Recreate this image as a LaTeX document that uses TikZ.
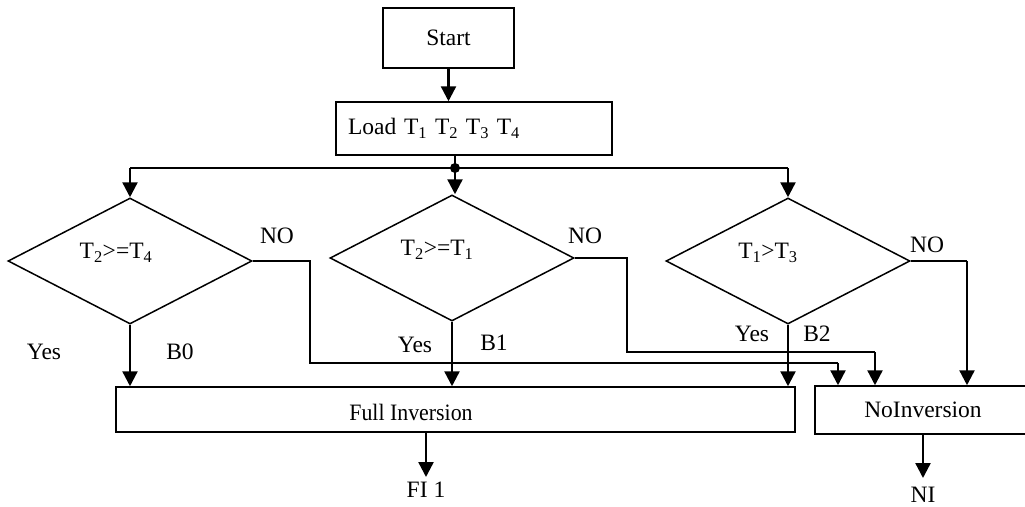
\documentclass[tikz,border=0pt]{standalone}
\usepackage{fontspec}
\setmainfont{Liberation Serif}
\usetikzlibrary{shapes.geometric,arrows.meta}
\begin{document}
\begin{tikzpicture}[x=1pt,y=-1pt,
  box/.style={draw,line width=1.5pt,inner sep=0pt},
  dia/.style={draw,diamond,line width=1.5pt,minimum width=244pt,minimum height=126pt,inner sep=0pt},
  txt/.style={font=\fontsize{23.5}{27}\selectfont,inner sep=0pt},
  arr/.style={line width=2.4pt,-{Triangle[width=15pt,length=15pt]}},
  wire/.style={line width=1.6pt},
]
\useasboundingbox (0,0) rectangle (1025,506);
% boxes
\node[box,txt,minimum width=131pt,minimum height=60pt] (start) at (448.5,38) {Start};
\node[box,txt,minimum width=276pt,minimum height=53pt,text width=252pt,align=left] (load) at (474,128.5) {Load T\textsubscript{1} T\textsubscript{2} T\textsubscript{3} T\textsubscript{4}};
\coordinate (j) at (455,168);
% diamonds
\node[dia] (d1) at (130,261) {};
\node[dia] (d2) at (452,258) {};
\node[dia] (d3) at (788,261) {};
\node[txt] (d1t) at (116,253) {T\textsubscript{2}>=T\textsubscript{4}};
\node[txt] (d2t) at (437,250) {T\textsubscript{2}>=T\textsubscript{1}};
\node[txt] (d3t) at (768,253) {T\textsubscript{1}>T\textsubscript{3}};
% bottom boxes
\node[box,minimum width=679pt,minimum height=45pt] (fi) at (455.5,409.5) {};
\node[txt,xscale=0.93] (fitext) at (411,412) {Full Inversion};
\node[box,txt,minimum width=216pt,minimum height=48pt] (ni) at (923,410) {NoInversion};
\coordinate (fiout) at (426,477);
\coordinate (niout) at (923,478);
% connectors
\draw[arr] (start.south) -- (start.south |- load.north);
\draw[line width=2.4pt] (load.south -| j) -- (j);
\fill (j) circle (5pt);
\draw[wire] (d1.north |- j) -- (d3.north |- j);
\draw[arr] (d1.north |- j) -- (d1.north);
\draw[arr] (j) -- (d2.north -| j);
\draw[arr] (d3.north |- j) -- (d3.north);
% yes
\draw[arr] (d1.south) -- (d1.south |- fi.north);
\draw[arr] (d2.south) -- (d2.south |- fi.north);
\draw[arr] (d3.south) -- (d3.south |- fi.north);
% no
\coordinate (n1a) at (310,363);
\coordinate (n1b) at (838,363);
\coordinate (n2a) at (627,352);
\coordinate (n2b) at (875,352);
\coordinate (n3a) at (967,261);
\draw[wire] (d1.east) -| (n1a) -- (n1b);
\draw[arr] (n1b) -- (n1b |- ni.north);
\draw[wire] (d2.east) -| (n2a) -- (n2b);
\draw[arr] (n2b) -- (n2b |- ni.north);
\draw[wire] (d3.east) -- (n3a);
\draw[arr] (n3a) -- (n3a |- ni.north);
% outputs
\draw[arr] (fi.south -| fiout) -- (fiout);
\draw[arr] (ni.south -| niout) -- (niout);
\node[txt] (fil) at (426,490) {FI 1};
\node[txt] (nil) at (923,495) {NI};
% labels
\node[txt] (no1) at (277,236) {NO};
\node[txt] (no2) at (585,236) {NO};
\node[txt] (no3) at (927,245) {NO};
\node[txt] (y1) at (44,352) {Yes};
\node[txt] (b0) at (180,352) {B0};
\node[txt] (y2) at (415,345) {Yes};
\node[txt] (b1) at (494,343) {B1};
\node[txt] (y3) at (752,334) {Yes};
\node[txt] (b2) at (817,334) {B2};
\end{tikzpicture}
\end{document}
